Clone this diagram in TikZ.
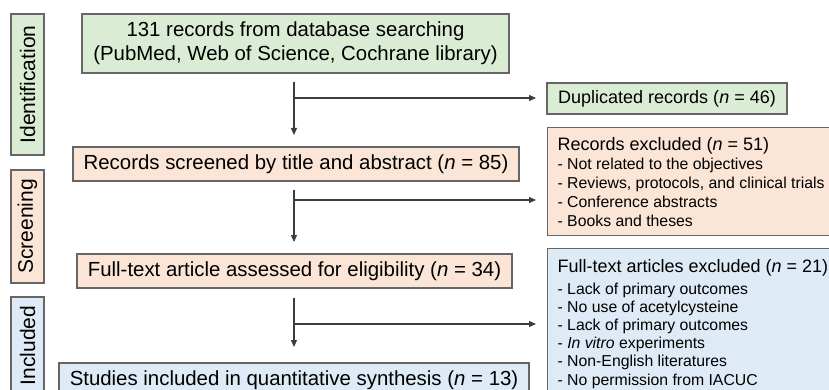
\documentclass[tikz,border=0pt]{standalone}
\usepackage{fontspec}
\setmainfont{Liberation Sans}
\usetikzlibrary{arrows.meta}
\definecolor{gfill}{HTML}{DAEDD4}
\definecolor{pfill}{HTML}{FBE5D6}
\definecolor{bfill}{HTML}{DEEBF7}
\definecolor{bordergray}{HTML}{666666}
\definecolor{linegray}{HTML}{3C3C3C}
\begin{document}
\begin{tikzpicture}[x=1pt,y=-1pt,
  box/.style={draw=bordergray, line width=1.2pt, inner sep=0pt, align=center, text=black},
  mainfont/.style={font=\fontsize{20.4}{24}\selectfont},
  stagefont/.style={font=\fontsize{21}{24}\selectfont},
  conn/.style={draw=linegray, line width=1.2pt},
  arr/.style={conn, -{Triangle[length=7pt,width=6pt]}}]
\useasboundingbox (0,0) rectangle (829,390);
\clip (0,0) rectangle (829,390);
% stage labels
\node[box, stagefont, fill=gfill, minimum width=141pt, minimum height=33pt, rotate=90] (ident) at (27.5,84.5) {Identification};
\node[box, stagefont, fill=pfill, minimum width=113pt, minimum height=33pt, rotate=90] (screen) at (27.5,226.5) {Screening};
\node[box, stagefont, fill=bfill, minimum width=97pt, minimum height=33pt, rotate=90] (incl) at (27.5,345.5) {Included};
% main boxes
\node[box, mainfont, fill=gfill, minimum width=427pt, minimum height=59pt] (src) at (295.5,43.5) {131 records from database searching\\(PubMed, Web of Science, Cochrane library)};
\node[box, mainfont, fill=pfill, minimum width=446pt, minimum height=34pt] (scr) at (296,164) {Records screened by title and abstract (\textit{n} = 85)};
\node[box, mainfont, fill=pfill, minimum width=435pt, minimum height=34pt] (full) at (294.5,271) {Full-text article assessed for eligibility (\textit{n} = 34)};
\node[box, mainfont, fill=bfill, minimum width=470pt, minimum height=34pt] (stud) at (294,380) {Studies included in quantitative synthesis (\textit{n} = 13)};
% right boxes
\node[box, fill=gfill, minimum width=240pt, minimum height=31pt, font=\fontsize{18}{20}\selectfont] (dup) at (667,98.5) {Duplicated records (\textit{n} = 46)};
\node[box, fill=pfill, anchor=north west, inner xsep=10pt, inner ysep=0pt, align=left] (rexc) at (547,127)
  {\parbox[c][108pt][t]{290pt}{\fontsize{15.8}{19}\selectfont
   {\fontsize{18}{19}\selectfont\rule{0pt}{22.5pt}Records excluded (\textit{n} = 51)}\\[0.5pt]
   - Not related to the objectives\\
   - Reviews, protocols, and clinical trials\\
   - Conference abstracts\\
   - Books and theses}};
\node[box, fill=bfill, anchor=north west, inner xsep=10pt, inner ysep=0pt, align=left] (fexc) at (547,248)
  {\parbox[c][170pt][t]{290pt}{\fontsize{15.8}{18.2}\selectfont
   {\fontsize{18}{18.2}\selectfont\rule{0pt}{24pt}Full-text articles excluded (\textit{n} = 21)}\\[3.3pt]
   - Lack of primary outcomes\\
   - No use of acetylcysteine\\
   - Lack of primary outcomes\\
   - \textit{In vitro} experiments\\
   - Non-English literatures\\
   - No permission from IACUC}};
% connector coordinates
\coordinate (a1) at (294,82);
\coordinate (b1) at (294,98);
\coordinate (a2) at (294,190);
\coordinate (b2) at (294,200);
\coordinate (a3) at (294,298);
\coordinate (b3) at (294,324);
\coordinate (t1) at (294,135);
\coordinate (t2) at (294,242);
\coordinate (t3) at (294,347);
\coordinate (h1) at (536,98);
\coordinate (h2) at (536,200);
\coordinate (h3) at (536,324);
\draw[arr] (a1) -- (t1);
\draw[arr] (b1) -- (h1);
\draw[arr] (a2) -- (t2);
\draw[arr] (b2) -- (h2);
\draw[arr] (a3) -- (t3);
\draw[arr] (b3) -- (h3);
\end{tikzpicture}
\end{document}
